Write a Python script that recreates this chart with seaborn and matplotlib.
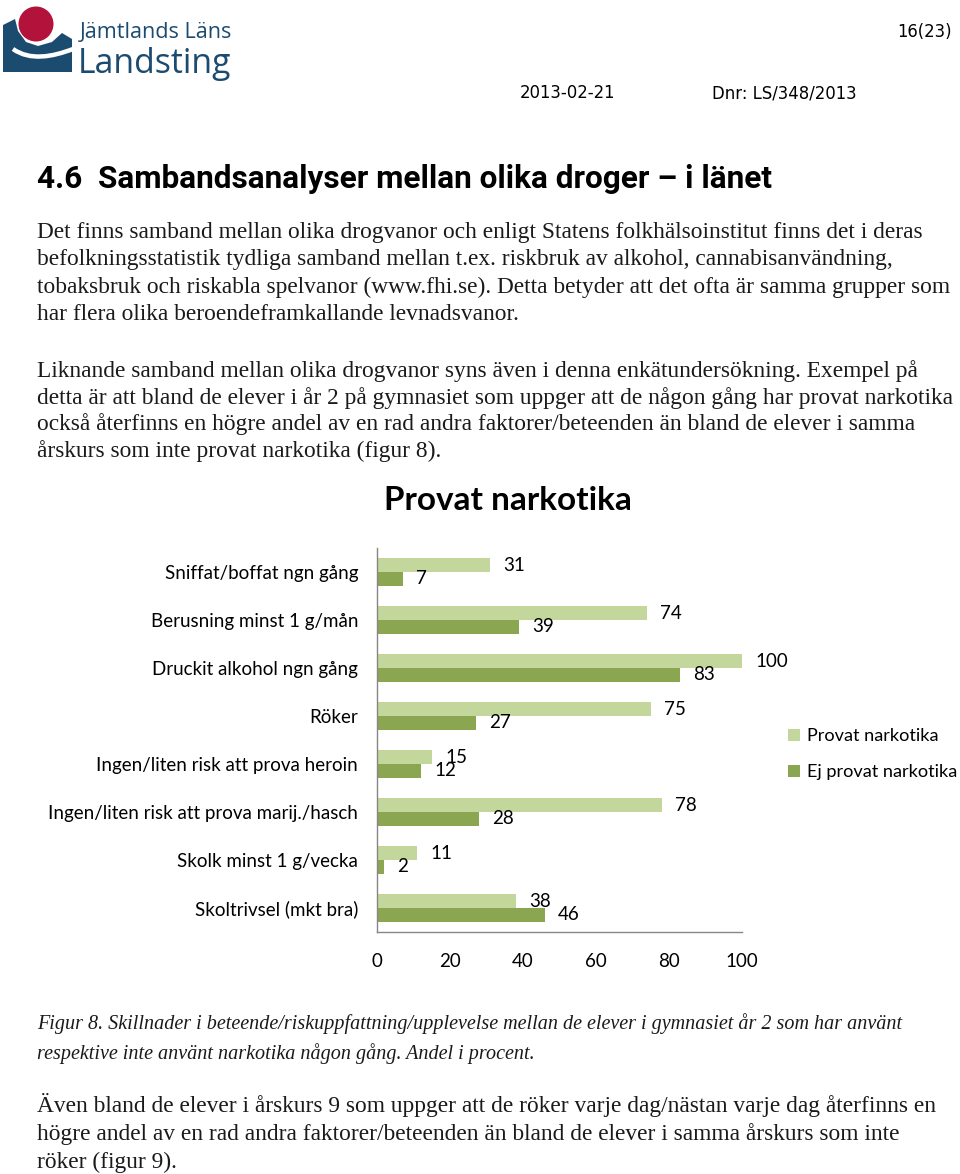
import matplotlib
matplotlib.use("Agg")
import matplotlib.pyplot as plt
import matplotlib.patches as mpatches
from matplotlib.path import Path
import numpy as np
import pandas as pd
import seaborn as sns

# ---------------- data ----------------
categories = [
    "Sniffat/boffat ngn gång",
    "Berusning minst 1 g/mån",
    "Druckit alkohol ngn gång",
    "Röker",
    "Ingen/liten risk att prova heroin",
    "Ingen/liten risk att prova marij./hasch",
    "Skolk minst 1 g/vecka",
    "Skoltrivsel (mkt bra)",
]
provat = [31, 74, 100, 75, 15, 78, 11, 38]
ej_provat = [7, 39, 83, 27, 12, 28, 2, 46]
series_names = ["Provat narkotika", "Ej provat narkotika"]
x_ticks = [0, 20, 40, 60, 80, 100]
chart_title = "Provat narkotika"

df = pd.DataFrame({
    "kategori": categories * 2,
    "andel": provat + ej_provat,
    "grupp": [series_names[0]] * len(categories) + [series_names[1]] * len(categories),
})

# ---------------- page ----------------
sns.set_theme(style="white")
plt.rcParams.update({"text.color": "black", "axes.labelcolor": "black",
                     "xtick.color": "black", "ytick.color": "black"})
W, H = 960, 1174
fig = plt.figure(figsize=(W / 100, H / 100), dpi=100)
renderer = fig.canvas.get_renderer()


def fy(ypx):
    return 1 - ypx / H


def fit_size(s, width_px, **kw):
    t = fig.text(0, 0, s, fontsize=20, **kw)
    w = t.get_window_extent(renderer).width
    t.remove()
    return 20 * width_px / w


def put(x, y, s, size, **kw):
    return fig.text(x / W, fy(y), s, fontsize=size, va="baseline", **kw)


# logo
lax = fig.add_axes([0, fy(80), 80 / W, 80 / H])
lax.set_xlim(0, 80)
lax.set_ylim(80, 0)
lax.axis("off")
blue = "#1c4b70"
red = "#b3123b"
verts = [(3, 25), (15, 19), (18, 31), (26, 42), (38, 46), (52, 42), (62, 33),
         (72, 39), (72, 72), (3, 72), (3, 25)]
lax.add_patch(mpatches.Polygon(verts, closed=True, color=blue, lw=0))
wave = Path([(13, 49), (30, 61), (52, 57), (73, 49)],
            [Path.MOVETO, Path.CURVE4, Path.CURVE4, Path.CURVE4])
lax.add_patch(mpatches.PathPatch(wave, fc="none", ec="white", lw=3.2))
lax.add_patch(mpatches.Circle((36, 24), 17.5, color=red, lw=0))

logo_font = "Open Sans"
s1 = fit_size("Jämtlands Läns", 152, family=logo_font)
put(80, 38, "Jämtlands Läns", s1, family=logo_font, color=blue)
s2 = fit_size("Landsting", 153, family=logo_font)
put(78, 73, "Landsting", s2, family=logo_font, color=blue)

hdr_font = "DejaVu Sans"
hs = fit_size("Dnr: LS/348/2013", 145, family=hdr_font)
fig.text(952 / W, fy(37), "16(23)", fontsize=hs, family=hdr_font, ha="right", va="baseline")
put(520, 98, "2013-02-21", hs, family=hdr_font)
put(712, 98, "Dnr: LS/348/2013", hs, family=hdr_font)

heading = "4.6  Sambandsanalyser mellan olika droger \u2013 i länet"
head_font = "Roboto"
hsz = fit_size(heading, 733, family=head_font, weight="bold")
put(37, 188, heading, hsz, family=head_font, weight="bold")

serif = "Liberation Serif"
par1 = [
    "Det finns samband mellan olika drogvanor och enligt Statens folkhälsoinstitut finns det i deras",
    "befolkningsstatistik tydliga samband mellan t.ex. riskbruk av alkohol, cannabisanvändning,",
    "tobaksbruk och riskabla spelvanor (www.fhi.se). Detta betyder att det ofta är samma grupper som",
    "har flera olika beroendeframkallande levnadsvanor.",
]
par2 = [
    "Liknande samband mellan olika drogvanor syns även i denna enkätundersökning. Exempel på",
    "detta är att bland de elever i år 2 på gymnasiet som uppger att de någon gång har provat narkotika",
    "också återfinns en högre andel av en rad andra faktorer/beteenden än bland de elever i samma",
    "årskurs som inte provat narkotika (figur 8).",
]
caption = [
    "Figur 8. Skillnader i beteende/riskuppfattning/upplevelse mellan de elever i gymnasiet år 2 som har använt",
    "respektive inte använt narkotika någon gång. Andel i procent.",
]
par3 = [
    "Även bland de elever i årskurs 9 som uppger att de röker varje dag/nästan varje dag återfinns en",
    "högre andel av en rad andra faktorer/beteenden än bland de elever i samma årskurs som inte",
    "röker (figur 9).",
]
bs = fit_size(par1[0], 885, family=serif)
for line, y in zip(par1, [238, 265, 293, 320]):
    put(37, y, line, bs, family=serif, color="#1a1a1a")
for line, y in zip(par2, [377, 404, 430, 457]):
    put(37, y, line, bs, family=serif, color="#1a1a1a")
cs = fit_size(caption[0], 863, family=serif, style="italic")
for line, y in zip(caption, [1029, 1059]):
    put(37, y, line, cs, family=serif, style="italic", color="#1a1a1a")
for line, y in zip(par3, [1112, 1140, 1168]):
    put(37, y, line, bs, family=serif, color="#1a1a1a")

# ---------------- chart ----------------
cfont = "Lato"
lab_size = fit_size(categories[5], 310, family=cfont)
title_size = fit_size(chart_title, 247, family=cfont, weight="bold")

ax = fig.add_axes([377 / W, fy(932), (742 - 377) / W, (932 - 548) / H])
colors = ["#c3d69b", "#8ba651"]
sns.barplot(data=df, y="kategori", x="andel", hue="grupp", hue_order=series_names,
            order=categories, orient="h", palette=colors, width=0.58, ax=ax,
            saturation=1, legend=True, edgecolor="none", linewidth=0)
ax.set_xlim(0, 100)
ax.set_ylim(len(categories) - 0.5, -0.5)
ax.set_xticks(x_ticks)
ax.set_xticklabels([str(v) for v in x_ticks], family=cfont, fontsize=lab_size)
ax.set_yticks(range(len(categories)))
ax.set_yticklabels(categories, family=cfont, fontsize=lab_size)
ax.set_xlabel("")
ax.set_ylabel("")
ax.tick_params(axis="x", length=5, width=1, color="#868686", direction="out", pad=10)
ax.tick_params(axis="y", length=0, pad=13.5)
for side in ["top", "right"]:
    ax.spines[side].set_visible(False)
for side in ["left", "bottom"]:
    ax.spines[side].set_color("#868686")
    ax.spines[side].set_linewidth(1)
ax.grid(False)
for cont in ax.containers:
    ax.bar_label(cont, padding=9.5, fontsize=lab_size, family=cfont, color="black")

fig.text(508 / W, fy(500), chart_title, fontsize=title_size, family=cfont,
         weight="bold", ha="center", va="center")

handles, labels = ax.get_legend_handles_labels()
ax.legend(handles, labels, loc="upper left", bbox_to_anchor=(788 / W, fy(728)),
          bbox_transform=fig.transFigure, frameon=False,
          prop={"family": cfont, "size": lab_size * 0.97},
          handlelength=0.65, handleheight=0.65, handletextpad=0.4, labelspacing=1.1,
          borderpad=0, borderaxespad=0)

fig.savefig("out.png", dpi=100)
